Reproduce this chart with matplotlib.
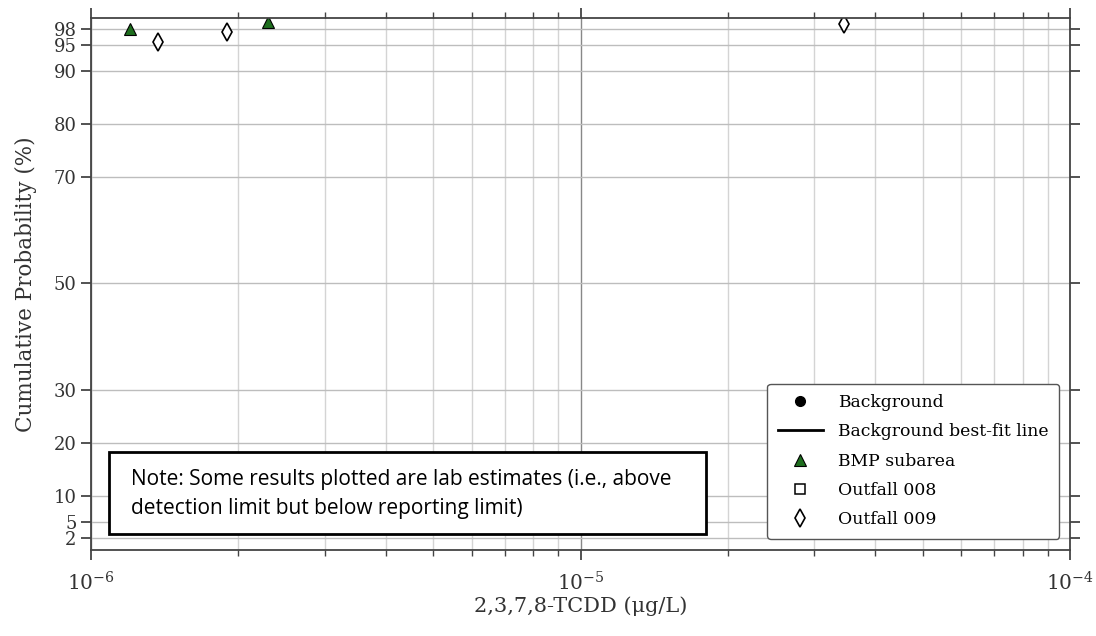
import numpy as np
import matplotlib.pyplot as plt
from matplotlib.patches import Rectangle
from matplotlib.ticker import LogLocator, NullFormatter

plt.rcParams['font.family'] = 'DejaVu Serif'
plt.rcParams['mathtext.fontset'] = 'dejavuserif'

# data
bmp_x = [1.20e-6, 2.30e-6]
bmp_y = [98.0, 99.2]
out009_x = [1.37e-6, 1.90e-6, 3.45e-5]
out009_y = [95.5, 97.3, 98.8]
background_x = []
background_y = []
out008_x = []
out008_y = []

yticks = [2, 5, 10, 20, 30, 50, 70, 80, 90, 95, 98]

fig = plt.figure(figsize=(10.96, 6.36), dpi=100)
ax = fig.add_axes([91 / 1096, 1 - 550 / 636, (1070 - 91) / 1096, (550 - 18) / 636])

# background series (no points shown)
ax.plot(background_x, background_y, 'o', color='black', ms=7, label='Background')
ax.plot(background_x, background_y, '-', color='black', lw=2, label='Background best-fit line')
ax.plot(bmp_x, bmp_y, '^', color='#1e6e1e', mec='black', mew=0.8, ms=8, ls='none', label='BMP subarea')
ax.plot(out008_x, out008_y, 's', mfc='white', mec='black', mew=1.1, ms=7, ls='none', label='Outfall 008')
ax.plot(out009_x, out009_y, 'd', mfc='white', mec='black', mew=1.2, ms=9, ls='none', label='Outfall 009')

ax.set_xscale('log')
ax.set_xlim(1e-6, 1e-4)
ax.set_ylim(-0.2, 100)
ax.set_yticks(yticks)
ax.set_yticklabels([str(t) for t in yticks])
ax.xaxis.set_minor_locator(LogLocator(base=10, subs=np.arange(2, 10), numticks=20))
ax.xaxis.set_minor_formatter(NullFormatter())

ax.grid(True, which='major', axis='x', color='#888888', lw=1.0)
ax.grid(True, which='minor', axis='x', color='#d4d4d4', lw=1.0)
ax.grid(True, which='major', axis='y', color='#bdbdbd', lw=1.0)
ax.set_axisbelow(True)

for s in ax.spines.values():
    s.set_color('#444444')
    s.set_linewidth(1.3)

ax.tick_params(which='both', direction='out', top=True, right=True, colors='#444444',
               labelcolor='#333333', labelsize=13)
ax.tick_params(which='major', length=7, width=1.3)
ax.tick_params(which='minor', length=4, width=1.0)
ax.tick_params(axis='x', which='major', pad=8, labelsize=14.5)

ax.set_xlabel('2,3,7,8-TCDD (μg/L)', fontsize=15, color='#333333', labelpad=2)
ax.set_ylabel('Cumulative Probability (%)', fontsize=15.5, color='#333333', labelpad=12)

leg = ax.legend(loc='lower right', bbox_to_anchor=(0.9888, 0.021), borderaxespad=0,
                fontsize=12.4, frameon=True, fancybox=True, edgecolor='#555555',
                framealpha=1, handlelength=2.6, borderpad=0.6, labelspacing=0.72,
                handletextpad=0.9)
leg.get_frame().set_linewidth(1.0)

# note box
ax.add_patch(Rectangle((109 / 1096, 1 - 534 / 636), (706 - 109) / 1096, (534 - 452) / 636,
                       transform=fig.transFigure, facecolor='white', edgecolor='black',
                       lw=2, zorder=5))
fig.text(131 / 1096, 1 - 494 / 636,
         'Note: Some results plotted are lab estimates (i.e., above\ndetection limit but below reporting limit)',
         family='Open Sans', fontsize=15, linespacing=1.5, va='center', zorder=6)

fig.savefig('out.png', dpi=100)
